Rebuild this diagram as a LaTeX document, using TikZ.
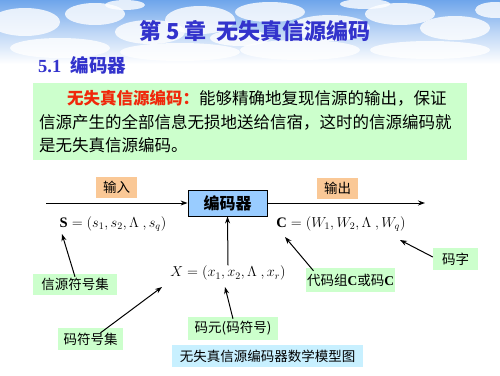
\documentclass[tikz,border=0pt]{standalone}
\usepackage{fontspec}
\setmainfont{Liberation Serif}
\newfontfamily\cjk{Noto Sans CJK SC}
\usetikzlibrary{arrows.meta}
\definecolor{ttl}{RGB}{51,51,204}
\definecolor{grn}{RGB}{204,255,204}
\definecolor{org}{RGB}{250,200,150}
\definecolor{encb}{RGB}{153,204,255}
\definecolor{cyn}{RGB}{200,240,255}
\definecolor{sky}{RGB}{110,165,235}
\definecolor{redt}{RGB}{240,40,10}
\tikzset{
  lab/.style={inner sep=0pt, font=\cjk\fontsize{13.5}{14}\selectfont},
  grnbox/.style={lab, fill=grn},
  orgbox/.style={lab, fill=org, minimum width=41pt, minimum height=21pt},
  para/.style={anchor=west, inner sep=0pt, font=\cjk\fontsize{16.5}{17}\selectfont},
  arr/.style={-{Stealth[length=7pt,width=5pt]}, line width=1pt},
  fml/.style={inner sep=0pt, font=\fontsize{14.5}{15}\selectfont}
}
\begin{document}
\begin{tikzpicture}[x=1pt,y=-1pt]
\useasboundingbox (0,0) rectangle (500,375);
% sky background
\shade[top color=sky, bottom color=white, middle color=sky!45] (0,0) rectangle (500,64);
\foreach \cx/\cy/\rx/\ry in {25/22/35/14, 95/14/30/11, 150/32/35/12, 200/20/35/14, 270/12/35/10, 330/28/40/13, 400/14/35/11, 455/28/35/12, 495/10/20/8, 60/48/50/10, 180/52/60/9, 300/50/60/10, 430/50/60/9, 125/5/20/5, 365/4/25/5, 240/38/30/8}{
  \fill[white, opacity=0.8] (\cx,\cy) ellipse [x radius=\rx, y radius=\ry];
}
% title
\node[inner sep=0pt, text=ttl, font=\cjk\bfseries\fontsize{22}{24}\selectfont] (title) at (255,31) {第 5 章\ \ 无失真信源编码};
\node[anchor=west, inner sep=0pt, text=ttl, font=\bfseries\fontsize{18.5}{20}\selectfont] (sec) at (38,65) {5.1\ \ {\cjk 编码器}};
% green paragraph
\node[fill=grn, minimum width=434pt, minimum height=77pt, inner sep=0pt] (parbox) at (250,121.5) {};
\node[para] (l1) at (67,98) {{\color{redt}\bfseries 无失真信源编码：}能够精确地复现信源的输出，保证};
\node[para] (l2) at (39,122) {信源产生的全部信息无损地送给信宿，这时的信源编码就};
\node[para] (l3) at (39,145.5) {是无失真信源编码。};
% labels
\node[orgbox] (in) at (116.5,187.5) {输入};
\node[orgbox] (out) at (337.5,188.5) {输出};
\node[draw, line width=0.8pt, fill=encb, minimum width=79pt, minimum height=26pt, inner sep=0pt, font=\cjk\bfseries\fontsize{16}{17}\selectfont] (enc) at (227.5,203) {编码器};
\coordinate (inS) at (46,203);
\coordinate (outE) at (425,203);
\draw[arr] (inS) -- (enc.west);
\draw[arr] (enc.east) -- (outE);
% formulas
\node[fml] (S) at (113,224) {$\mathbf{S}=\Bigl(s_1,s_2,\Lambda\ ,s_q\Bigr)$};
\node[fml] (C) at (341,224) {$\mathbf{C}=\Bigl(W_1,W_2,\Lambda\ ,W_q\Bigr)$};
\node[fml] (X) at (228,273) {$X=\Bigl(x_1,x_2,\Lambda\ ,x_r\Bigr)$};
\draw[arr] (X.north) -- (enc.south);
% green boxes
\node[grnbox, minimum width=84pt, minimum height=21pt] (sset) at (75,284.5) {信源符号集};
\node[grnbox, minimum width=89pt, minimum height=24pt] (cset) at (350.5,280) {代码组{\rmfamily\bfseries C}或码{\rmfamily\bfseries C}};
\node[grnbox, minimum width=45pt, minimum height=22pt] (word) at (455.5,259) {码字};
\node[grnbox, minimum width=65pt, minimum height=22pt] (xset) at (90.5,339) {码符号集};
\node[grnbox, minimum width=90pt, minimum height=23pt] (elem) at (233,328.5) {码元({\cjk 码符号})};
\node[lab, fill=cyn, minimum width=191pt, minimum height=22pt] (cap) at (267.5,356) {无失真信源编码器数学模型图};
% pointers
\coordinate (sTip) at (62,234);
\coordinate (cTip) at (285,237);
\coordinate (wTip) at (400,240);
\coordinate (xTip) at (162,287);
\coordinate (eTip) at (225,287);
\draw[arr] ([xshift=0pt,yshift=-3pt]sset.north) -- (sTip);
\draw[arr] ([xshift=-37pt,yshift=-3pt]cset.north) -- (cTip);
\draw[arr] ([yshift=2pt]word.west) -- (wTip);
\draw[arr] ([xshift=10pt,yshift=-5pt]xset.north) -- (xTip);
\draw[arr] ([yshift=-2pt]elem.north) -- (eTip);
\end{tikzpicture}
\end{document}
